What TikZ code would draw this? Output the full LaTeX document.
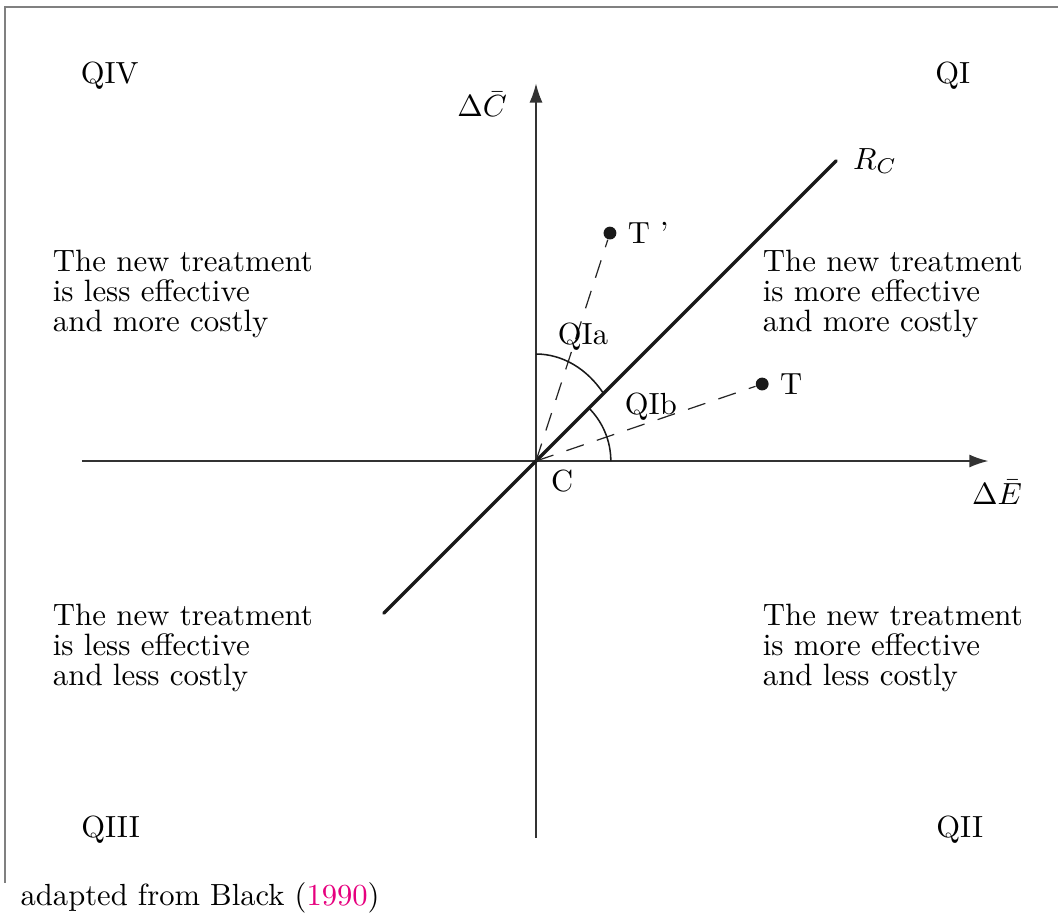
\documentclass[tikz,border=0pt]{standalone}
\usepackage{amsmath}
\usepackage{tikz}
\usetikzlibrary{positioning, arrows.meta, calc}
\definecolor{citepink}{RGB}{230,0,126}

\begin{document}
\begin{tikzpicture}[
    font=\normalsize,
    axis/.style={-{Latex[length=2.2mm, width=1.5mm]}, draw=black!80, line width=0.5pt},
    ratio/.style={draw=black!90, line width=1.1pt, line cap=round},
    ray/.style={draw=black!85, line width=0.4pt, dash pattern=on 6pt off 4.5pt},
    angmark/.style={draw=black!90, line width=0.5pt},
    dot/.style={circle, fill=black!90, inner sep=0pt, minimum size=4.2pt},
    verdict/.style={align=left, anchor=west, inner sep=0pt, font=\fontsize{10.1}{9.8}\selectfont},
    quad/.style={inner sep=0pt}
]
\useasboundingbox (-6.161,-5.195) rectangle (6.0,5.299);
% frame of the figure
\draw[black!50, line width=0.7pt] (-6.107,-4.85) -- (-6.107,5.222) -- (6.2,5.222);

% axes
\coordinate (C) at (0,0);
\coordinate (eW) at (-5.22,0);
\coordinate (eE) at (5.20,0);
\coordinate (cS) at (0,-4.33);
\coordinate (cN) at (0,4.34);
\draw[axis] (eW) -- (eE);
\draw[axis] (cS) -- (cN);
\node (dE) at (5.30,-0.36) {$\Delta\bar{E}$};
\node (dC) at (-0.62,4.10) {$\Delta\bar{C}$};
\node (clab) at (0.30,-0.23) {C};

% ceiling ratio line
\coordinate (rlo) at (-1.75,-1.75);
\coordinate (rhi) at (3.45,3.45);
\draw[ratio] (rlo) -- (rhi);
\node[right=0.07cm of rhi] (rc) {$R_C$};

% treatments
\node[dot] (T) at (2.60,0.885) {};
\node[dot] (Tp) at (0.85,2.62) {};
\node[right=0pt of T] (tlab) {T};
\node[right=0pt of Tp] (tplab) {T '};
\draw[ray] (C) -- (T);
\draw[ray] (C) -- (Tp);

% angles
\draw[angmark] (C) ++(0,1.23) arc[start angle=90, end angle=39.1, x radius=1.0, y radius=1.23];
\draw[angmark] (C) ++(0.86,0) arc[start angle=0, end angle=45, radius=0.86];
\node (qia) at (0.54,1.43) {QIa};
\node (qib) at (1.32,0.63) {QIb};

% quadrants
\node[quad] (q1) at (4.79,4.43) {QI};
\node[quad] (q2) at (4.87,-4.24) {QII};
\node[quad] (q3) at (-4.89,-4.24) {QIII};
\node[quad] (q4) at (-4.90,4.43) {QIV};

\node[verdict] (nw) at (-5.56,1.92) {The new treatment\\is less effective\\and more costly};
\node[verdict] (ne) at (2.60,1.92) {The new treatment\\is more effective\\and more costly};
\node[verdict] (sw) at (-5.56,-2.15) {The new treatment\\is less effective\\and less costly};
\node[verdict] (se) at (2.60,-2.15) {The new treatment\\is more effective\\and less costly};

\node[anchor=west, inner sep=0pt] (src) at (-5.93,-5.02) {adapted from Black (\textcolor{citepink}{1990})};
\end{tikzpicture}
\end{document}
